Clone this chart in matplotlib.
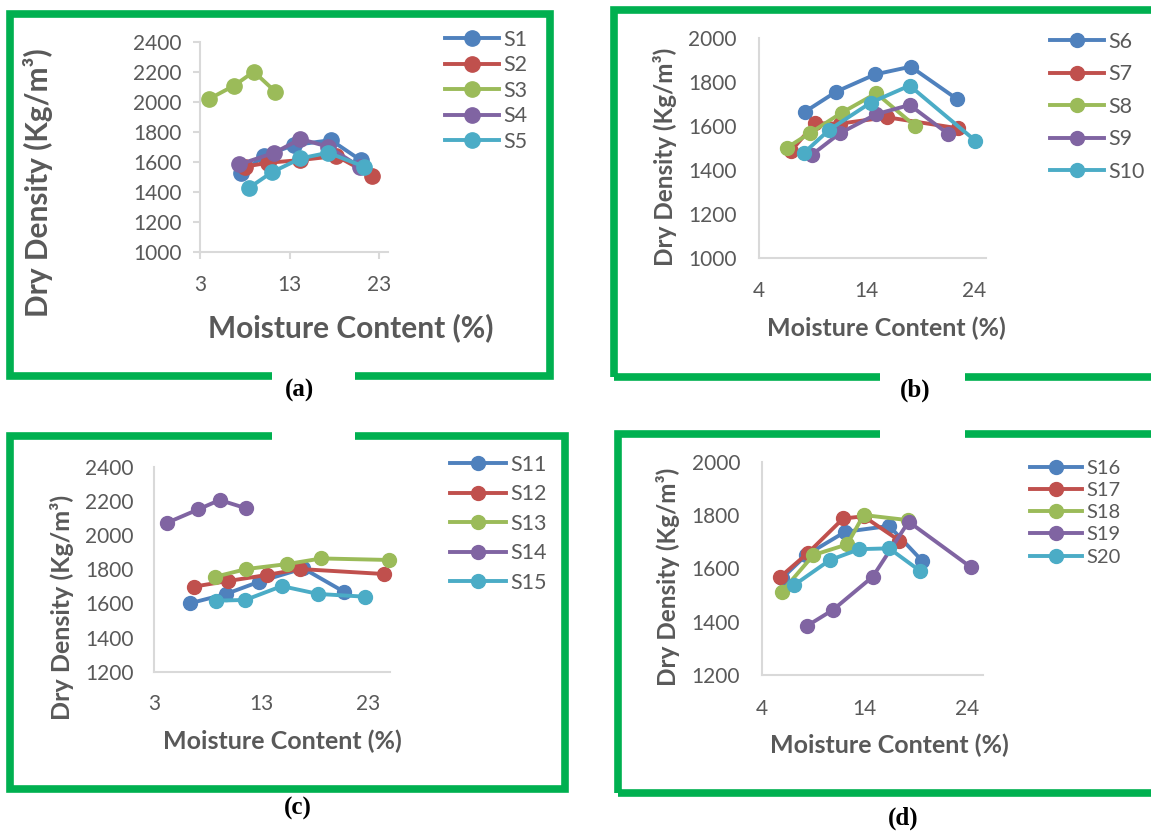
import matplotlib
matplotlib.use('Agg')
import matplotlib.pyplot as plt
from matplotlib.patches import Rectangle

plt.rcParams['font.family'] = ['Lato', 'DejaVu Sans']

W, H = 1151, 833
TEXT_GREY = '#595959'
AXIS_GREY = '#D9D9D9'
FRAME_GREEN = '#00B050'
colors = ['#4F81BD', '#C0504D', '#9BBB59', '#8064A2', '#4BACC6']

# panel (a)
a_labels = ['S1', 'S2', 'S3', 'S4', 'S5']
a_mc = [[7.6, 10.1, 13.5, 17.6, 20.9],
        [8.0, 10.6, 14.2, 18.2, 22.2],
        [4.0, 6.8, 9.0, 11.4],
        [7.4, 11.3, 14.2, 17.3, 20.8],
        [8.5, 11.0, 14.2, 17.3, 21.3]]
a_dd = [[1522, 1638, 1711, 1744, 1611],
        [1567, 1593, 1611, 1638, 1507],
        [2018, 2107, 2200, 2067],
        [1582, 1660, 1751, 1700, 1567],
        [1427, 1529, 1622, 1660, 1567]]

# panel (b)
b_labels = ['S6', 'S7', 'S8', 'S9', 'S10']
b_mc = [[8.3, 11.2, 14.8, 18.1, 22.4],
        [7.0, 9.2, 11.5, 15.9, 22.5],
        [6.6, 8.7, 11.7, 14.9, 18.5],
        [8.9, 11.5, 14.9, 18.0, 21.6],
        [8.2, 10.5, 14.4, 18.0, 24.1]]
b_dd = [[1667, 1758, 1836, 1871, 1724],
        [1489, 1614, 1612, 1641, 1591],
        [1503, 1568, 1662, 1750, 1602],
        [1470, 1568, 1655, 1697, 1565],
        [1480, 1583, 1708, 1785, 1535]]

# panel (c)
c_labels = ['S11', 'S12', 'S13', 'S14', 'S15']
c_mc = [[6.3, 9.7, 12.8, 16.9, 20.7],
        [6.7, 9.9, 13.5, 16.6, 24.4],
        [8.7, 11.6, 15.4, 18.6, 24.9],
        [4.2, 7.1, 9.1, 11.6],
        [8.8, 11.5, 14.9, 18.3, 22.7]]
c_dd = [[1600, 1655, 1727, 1805, 1668],
        [1698, 1731, 1766, 1801, 1772],
        [1756, 1801, 1830, 1863, 1854],
        [2072, 2150, 2205, 2156],
        [1616, 1620, 1701, 1655, 1639]]

# panel (d)
d_labels = ['S16', 'S17', 'S18', 'S19', 'S20']
d_mc = [[5.9, 8.3, 12.1, 16.4, 19.6],
        [5.7, 8.5, 11.9, 13.9, 17.4],
        [5.9, 9.0, 12.3, 13.9, 18.2],
        [8.4, 10.9, 14.8, 18.3, 24.4],
        [7.1, 10.6, 13.5, 16.4, 19.4]]
d_dd = [[1562, 1650, 1737, 1759, 1629],
        [1566, 1659, 1787, 1795, 1704],
        [1512, 1650, 1690, 1800, 1781],
        [1385, 1444, 1569, 1775, 1604],
        [1537, 1631, 1672, 1675, 1591]]

fig = plt.figure(figsize=(W / 100, H / 100), dpi=100)


def fx(x):
    return x / W


def fy(y):
    return 1 - y / H


def frame(left, top, right, bottom, gap_left, gap_right, gap_y):
    fig.add_artist(Rectangle((fx(left), fy(bottom)), fx(right - left), (bottom - top) / H,
                             transform=fig.transFigure, fill=False, ec=FRAME_GREEN, lw=5.5,
                             joinstyle='miter', zorder=1))
    fig.add_artist(Rectangle((fx(gap_left), fy(gap_y + 6)), fx(gap_right - gap_left), 12 / H,
                             transform=fig.transFigure, fc='white', ec='none', zorder=2))


def panel(box, xlim, ylim, xticks, yticks, labels, mc, dd, ticks_out, tsize, ms,
          ylab_pos, xlab_pos, lab_size, leg_pos, leg_size, leg_space, leg_hl, ypad, xpad):
    left, top, right, bottom = box
    ax = fig.add_axes([fx(left), fy(bottom), fx(right - left), (bottom - top) / H])
    for i, lab in enumerate(labels):
        ax.plot(mc[i], dd[i], '-o', color=colors[i], lw=2.8, ms=ms, label=lab,
                clip_on=False)
    ax.set_xlim(*xlim)
    ax.set_ylim(*ylim)
    ax.set_xticks(xticks)
    ax.set_yticks(yticks)
    for s in ['top', 'right']:
        ax.spines[s].set_visible(False)
    for s in ['left', 'bottom']:
        ax.spines[s].set_color(AXIS_GREY)
        ax.spines[s].set_linewidth(1.5)
    if ticks_out:
        ax.tick_params(axis='y', direction='out', length=5, width=1.5, color=AXIS_GREY,
                       labelsize=tsize, labelcolor=TEXT_GREY, pad=ypad)
        ax.tick_params(axis='x', direction='out', length=5, width=1.5, color=AXIS_GREY,
                       labelsize=tsize, labelcolor=TEXT_GREY, pad=xpad)
    else:
        ax.tick_params(axis='y', length=0, labelsize=tsize, labelcolor=TEXT_GREY, pad=ypad)
        ax.tick_params(axis='x', length=0, labelsize=tsize, labelcolor=TEXT_GREY, pad=xpad)
    fig.text(fx(ylab_pos[0]), fy(ylab_pos[1]), 'Dry Density (Kg/m\u00b3)', rotation=90,
             ha='center', va='center', fontsize=lab_size[0], fontweight='bold', color=TEXT_GREY)
    fig.text(fx(xlab_pos[0]), fy(xlab_pos[1]), 'Moisture Content (%)',
             ha='center', va='center', fontsize=lab_size[1], fontweight='bold', color=TEXT_GREY)
    leg = ax.legend(loc='upper left', bbox_to_anchor=(fx(leg_pos[0]), fy(leg_pos[1])),
                    bbox_transform=fig.transFigure, frameon=False, fontsize=leg_size,
                    labelspacing=leg_space, handlelength=leg_hl, handletextpad=0.2,
                    borderpad=0, borderaxespad=0)
    for t in leg.get_texts():
        t.set_color(TEXT_GREY)
    return ax


frame(10, 14, 550, 376, 272, 355, 376)
frame(614, 10, 1160, 377, 880, 965, 377)
frame(10, 436, 565, 789, 272, 355, 436)
frame(618, 434, 1160, 793, 880, 965, 434)

panel((200, 41.7, 388.3, 251.7), (3, 24), (1000, 2400), [3, 13, 23],
      range(1000, 2401, 200), a_labels, a_mc, a_dd, True, 15, 11,
      (38, 183), (351, 328), (21.5, 21.5), (445, 30), 15.5, 0.25, 2.5, 8, 12)
panel((759, 38.3, 986, 258.3), (4, 25.1), (1000, 2000), [4, 14, 24],
      range(1000, 2001, 200), b_labels, b_mc, b_dd, False, 15, 10,
      (665, 157), (886, 328), (17.5, 18), (1050, 32), 15.5, 0.58, 2.5, 16, 16)
panel((154.3, 466.7, 390, 671.7), (3, 25), (1200, 2400), [3, 13, 23],
      range(1200, 2401, 200), c_labels, c_mc, c_dd, False, 15, 10,
      (62, 607), (282, 741), (18, 18), (450, 455), 15.5, 0.44, 2.6, 15, 16)
panel((762.3, 461.7, 983.3, 675), (4, 25.6), (1200, 2000), [4, 14, 24],
      range(1200, 2001, 200), d_labels, d_mc, d_dd, False, 15, 10,
      (668, 577), (889, 745), (17.5, 18), (1030, 460), 14.5, 0.25, 2.6, 16, 17)

for lab, x, y in [('(a)', 300, 390), ('(b)', 915, 390), ('(c)', 298, 808), ('(d)', 903, 818)]:
    fig.text(fx(x), fy(y), lab, ha='center', va='center', fontsize=18,
             fontweight='bold', family='Liberation Serif', color='black')

fig.savefig('out.png', dpi=100)
